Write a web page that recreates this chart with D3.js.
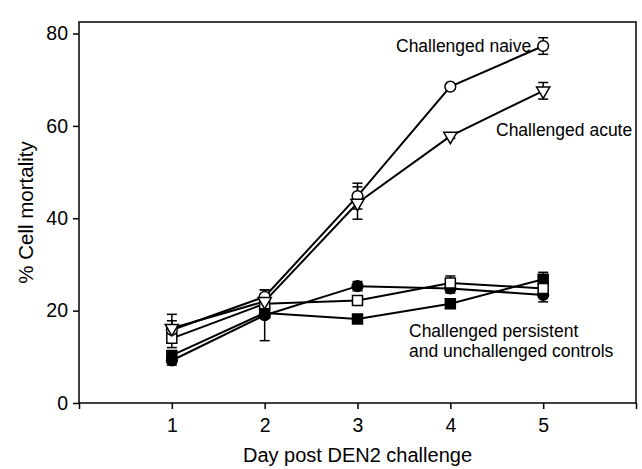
<!DOCTYPE html>
<html>
<head>
<meta charset="utf-8">
<script src="https://cdn.jsdelivr.net/npm/d3@7"></script>
<style>
  body { margin: 0; background: #fff; }
  text { font-family: "Liberation Sans", Arial, sans-serif; fill: #000; }
</style>
</head>
<body>
<svg id="chart" width="642" height="469"></svg>
<script>
// days on the x axis
const days = [1, 2, 3, 4, 5];
const xTicks = [0, 1, 2, 3, 4, 5, 6];
const xTickLabels = ["", "1", "2", "3", "4", "5", ""];
const yTicks = [0, 20, 40, 60, 80];

// % cell mortality per group
const naive = [15.8, 23, 44.8, 68.5, 77.3];
const naiveErr = [2, 1.5, 2.8, 0.6, 1.8];
const acute = [16.2, 22, 43.3, 57.8, 67.6];
const acuteErr = [3, 1.5, 3.5, 0.5, 1.8];
const filledCircle = [9.2, 19, 25.3, 24.8, 23.4];
const filledCircleErr = [1, 5.5, 1, 1, 1.5];
const filledSquare = [10.3, 19.5, 18.2, 21.5, 26.8];
const filledSquareErr = [1, 1, 0.5, 1, 1.5];
const openSquare = [14, 21.5, 22.2, 26, 24.8];
const openSquareErr = [2, 1.5, 1, 1.5, 1.5];

const series = [
  { values: filledCircle, err: filledCircleErr, shape: "circle", fill: "#000" },
  { values: filledSquare, err: filledSquareErr, shape: "square", fill: "#000" },
  { values: openSquare, err: openSquareErr, shape: "square", fill: "#fff" },
  { values: naive, err: naiveErr, shape: "circle", fill: "#fff" },
  { values: acute, err: acuteErr, shape: "triangle", fill: "#fff" }
];

const svg = d3.select("#chart");
const x = d3.scaleLinear().domain([0, 6]).range([79, 636]);
const y = d3.scaleLinear().domain([0, 82.5]).range([403, 22]);

// frame
svg.append("rect")
  .attr("x", x(0)).attr("y", y(82.5))
  .attr("width", x(6) - x(0)).attr("height", y(0) - y(82.5))
  .attr("fill", "none").attr("stroke", "#000").attr("stroke-width", 1.5);

// axes
const xAxis = svg.append("g")
  .attr("transform", `translate(0,${y(0)})`)
  .call(d3.axisBottom(x).tickValues(xTicks).tickSize(6).tickPadding(9)
    .tickFormat((d, i) => xTickLabels[i]));
const yAxis = svg.append("g")
  .attr("transform", `translate(${x(0)},0)`)
  .call(d3.axisLeft(y).tickValues(yTicks).tickSize(6).tickPadding(5));
[xAxis, yAxis].forEach(g => {
  g.select(".domain").remove();
  g.selectAll("line").attr("stroke", "#000").attr("stroke-width", 1.5);
  g.selectAll("text").attr("font-size", 19.5)
    .style("font-family", "Liberation Sans, Arial, sans-serif");
});

// lines
const line = d3.line().x((d, i) => x(days[i])).y(d => y(d));
series.forEach(s => {
  svg.append("path").datum(s.values)
    .attr("d", line).attr("fill", "none")
    .attr("stroke", "#000").attr("stroke-width", 2);
});

// error bars
series.forEach(s => {
  const g = svg.append("g");
  s.values.forEach((v, i) => {
    const cx = x(days[i]);
    const lo = y(v - s.err[i]), hi = y(v + s.err[i]);
    g.append("line").attr("x1", cx).attr("x2", cx).attr("y1", lo).attr("y2", hi)
      .attr("stroke", "#000").attr("stroke-width", 1.5);
    [lo, hi].forEach(yy => g.append("line")
      .attr("x1", cx - 5).attr("x2", cx + 5).attr("y1", yy).attr("y2", yy)
      .attr("stroke", "#000").attr("stroke-width", 1.5));
  });
});

// markers
const symbolType = { circle: d3.symbolCircle, square: d3.symbolSquare, triangle: d3.symbolTriangle };
const symbolSize = { circle: 90, square: 100, triangle: 75 };
series.forEach(s => {
  svg.append("g").selectAll("path")
    .data(s.values).join("path")
    .attr("d", d3.symbol().type(symbolType[s.shape]).size(symbolSize[s.shape]))
    .attr("transform", (d, i) => `translate(${x(days[i])},${y(d)})` +
      (s.shape === "triangle" ? " rotate(180)" : ""))
    .attr("fill", s.fill).attr("stroke", "#000").attr("stroke-width", 1.5);
});

// annotations
const notes = [
  { text: "Challenged naive", x: 396, y: 52 },
  { text: "Challenged acute", x: 496, y: 136 },
  { text: "Challenged persistent", x: 409, y: 337 },
  { text: "and unchallenged controls", x: 409, y: 357 }
];
svg.append("g").selectAll("text").data(notes).join("text")
  .attr("x", d => d.x).attr("y", d => d.y)
  .attr("font-size", 17.5).text(d => d.text);

// axis titles
svg.append("text")
  .attr("x", (x(0) + x(6)) / 2).attr("y", 462)
  .attr("text-anchor", "middle").attr("font-size", 20)
  .text("Day post DEN2 challenge");
svg.append("text")
  .attr("transform", `translate(33,${(y(0) + y(82.5)) / 2}) rotate(-90)`)
  .attr("text-anchor", "middle").attr("font-size", 20.5)
  .text("% Cell mortality");
</script>
</body>
</html>
